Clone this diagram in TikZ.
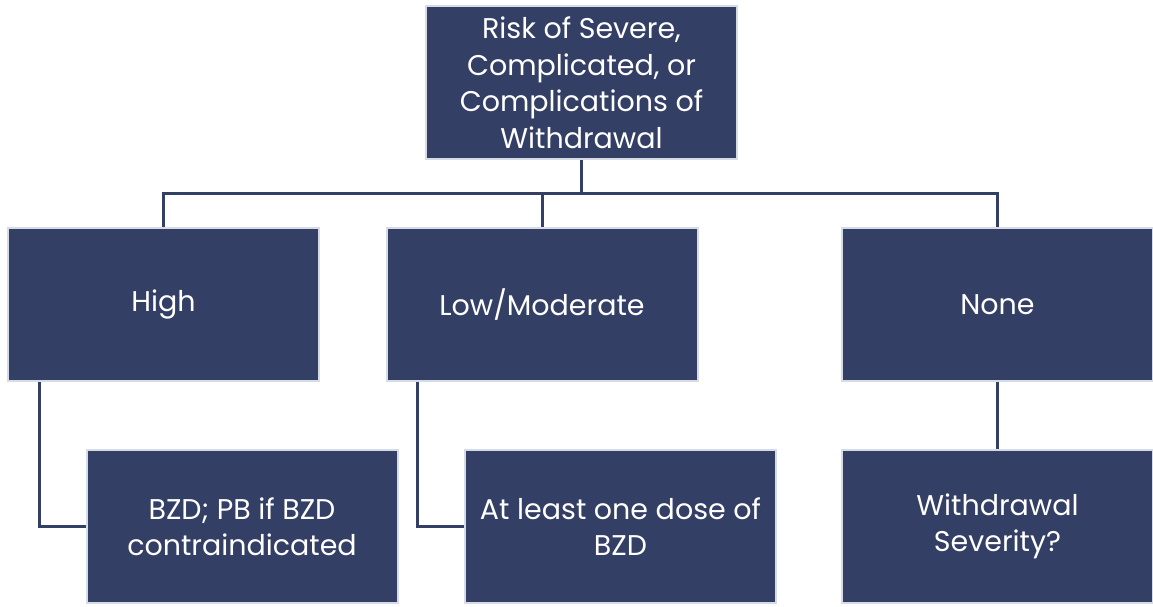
\documentclass[tikz,border=0pt]{standalone}
\usepackage{fontspec}
\setmainfont{Poppins}
\definecolor{navy}{HTML}{343F66}
\definecolor{rim}{HTML}{D6DCE5}
\begin{document}
\begin{tikzpicture}[x=1pt,y=-1pt,
  box/.style={draw=rim,line width=2pt,fill=navy,text=white,inner sep=0pt,
    minimum width=311pt,minimum height=153pt,align=center,
    font=\fontsize{28.5}{36.5}\selectfont},
  link/.style={draw=navy,line width=3pt}]
\useasboundingbox (0,0) rectangle (1153,606);
\node[box,minimum width=311pt] (top) at (581.5,82.5) {Risk of Severe,\\Complicated, or\\Complications of\\Withdrawal};
\node[box] (high) at (163.5,304.5) {High};
\node[box] (low) at (542,304.5) {Low/Moderate};
\node[box] (none) at (997.5,304.5) {None};
\node[box] (bzd) at (242,526.5) {BZD; PB if BZD\\contraindicated};
\node[box] (one) at (620.5,526.5) {At least one dose of\\BZD};
\node[box] (sev) at (997.5,526.5) {Withdrawal\\Severity?};
\coordinate (hub) at (581.5,193);
\draw[link] (top.south) -- (hub);
\draw[link] (high.north) |- (hub) -| (none.north);
\draw[link] (low.north) -- (low.north |- hub);
\draw[link] ([xshift=-124.5pt]high.south) |- (bzd.west);
\draw[link] ([xshift=-125pt]low.south) |- (one.west);
\draw[link] (none.south) -- (sev.north);
\end{tikzpicture}
\end{document}
